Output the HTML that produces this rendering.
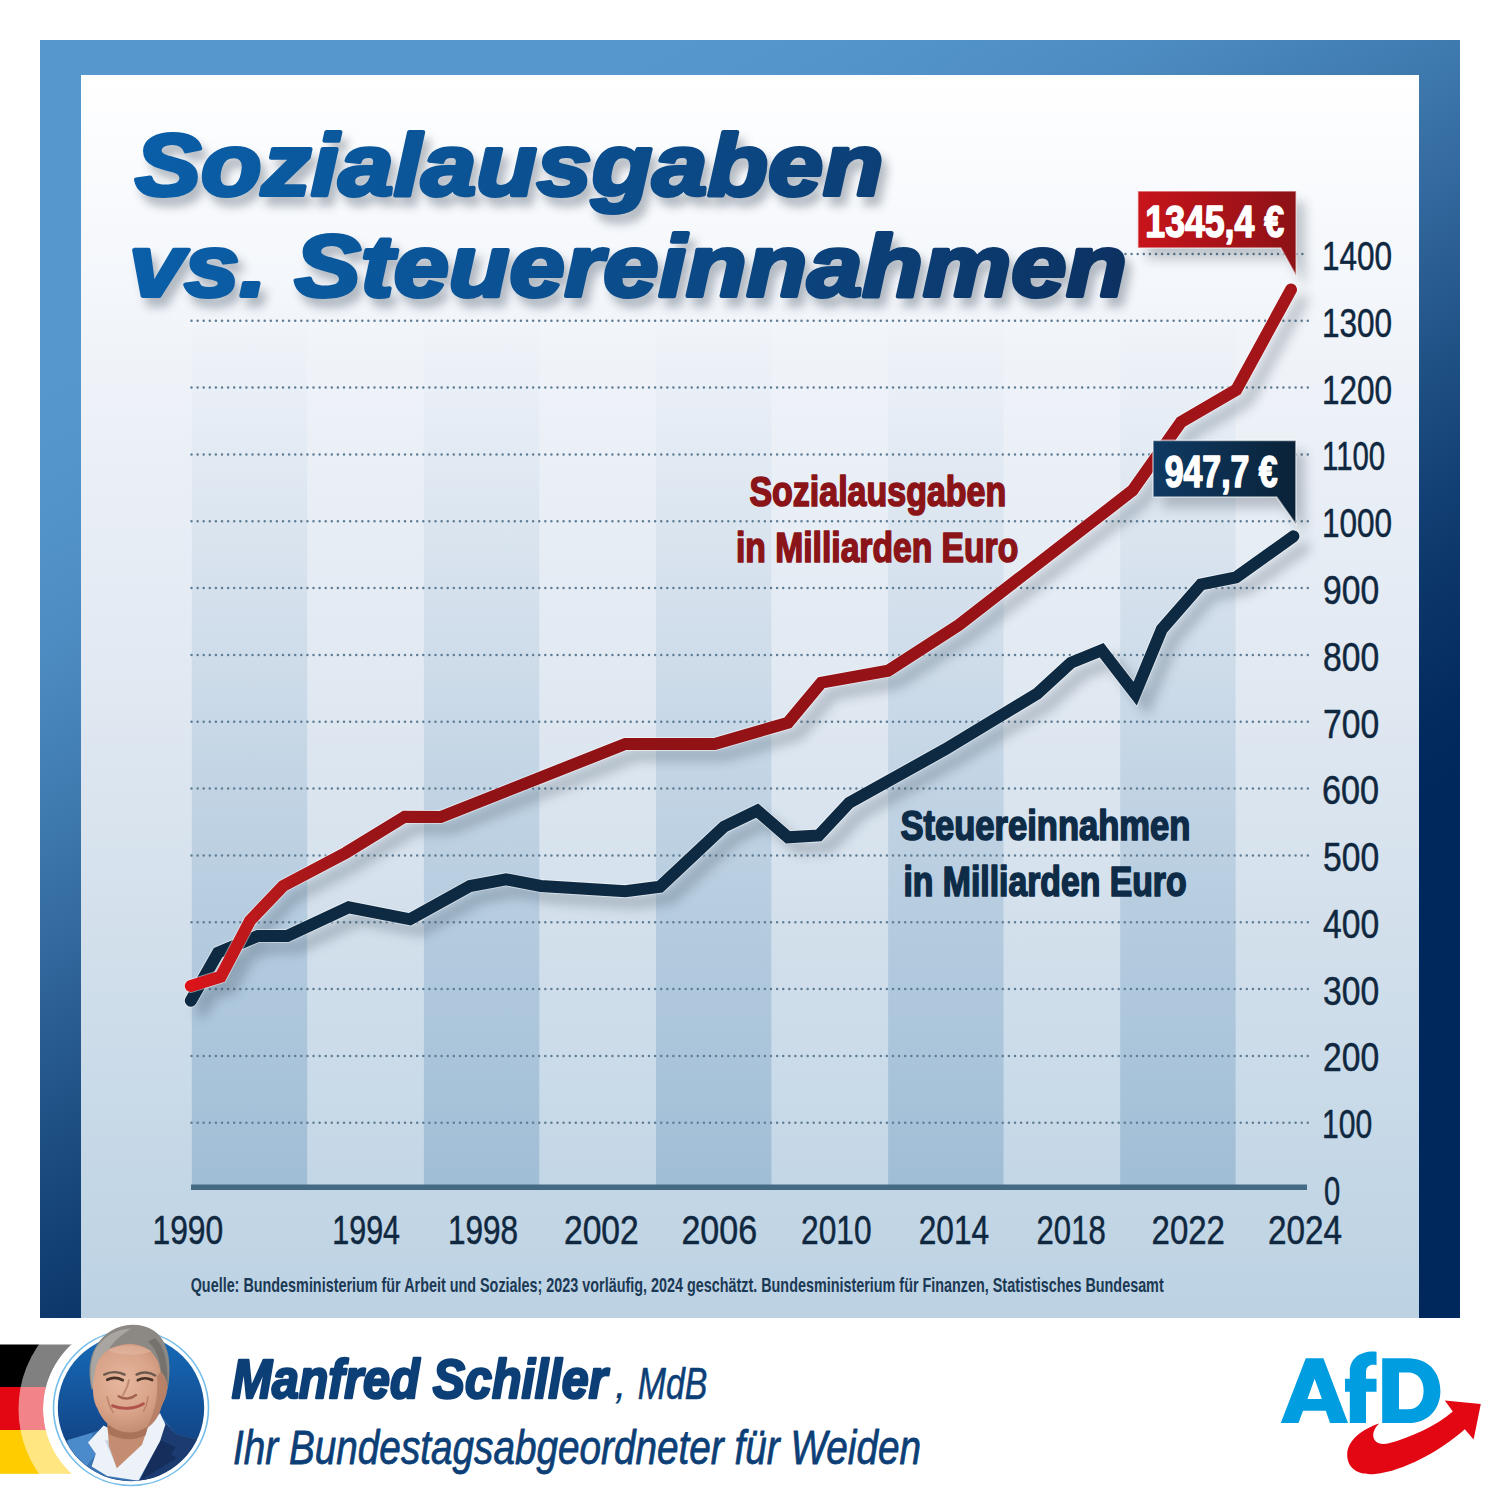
<!DOCTYPE html>
<html><head><meta charset="utf-8"><title>Sozialausgaben vs. Steuereinnahmen</title>
<style>
html,body{margin:0;padding:0;background:#fff;}
body{width:1500px;height:1500px;overflow:hidden;font-family:"Liberation Sans",sans-serif;}
svg{display:block;}
text{font-family:"Liberation Sans",sans-serif;}
</style></head><body>
<svg width="1500" height="1500" viewBox="0 0 1500 1500">
<defs>
<linearGradient id="frameG" gradientUnits="userSpaceOnUse" x1="168.4" y1="307.9" x2="665.3" y2="1216.1">
<stop offset="0.000" stop-color="#5698CE"/><stop offset="0.081" stop-color="#5496CC"/><stop offset="0.229" stop-color="#4D8CC2"/><stop offset="0.375" stop-color="#3F7AAF"/><stop offset="0.522" stop-color="#2E6398"/><stop offset="0.669" stop-color="#1B4B7F"/><stop offset="0.802" stop-color="#0D386C"/><stop offset="0.932" stop-color="#042B5F"/><stop offset="1.000" stop-color="#01285C"/>
</linearGradient>
<linearGradient id="panelG" x1="0" y1="0" x2="0" y2="1">
<stop offset="0" stop-color="#FFFFFF"/><stop offset="0.1" stop-color="#F8FAFD"/><stop offset="0.3" stop-color="#EBF0F7"/><stop offset="0.5" stop-color="#E0E8F1"/><stop offset="1" stop-color="#BCD2E3"/>
</linearGradient>
<linearGradient id="bandG" gradientUnits="userSpaceOnUse" x1="0" y1="310" x2="0" y2="1188">
<stop offset="0" stop-color="#6E9BC0" stop-opacity="0"/><stop offset="1" stop-color="#6E9BC0" stop-opacity="0.42"/>
</linearGradient>
<linearGradient id="titleG" gradientUnits="userSpaceOnUse" x1="134" y1="0" x2="1125" y2="0">
<stop offset="0" stop-color="#0A5FA8"/><stop offset="0.45" stop-color="#0B4F8F"/><stop offset="1" stop-color="#0C3262"/>
</linearGradient>
<linearGradient id="redG" gradientUnits="userSpaceOnUse" x1="190" y1="0" x2="1296" y2="0">
<stop offset="0" stop-color="#DD131A"/><stop offset="0.03" stop-color="#C8171B"/><stop offset="0.07" stop-color="#B5191B"/><stop offset="0.15" stop-color="#9B1418"/><stop offset="0.3" stop-color="#8E1215"/><stop offset="0.8" stop-color="#9A1317"/><stop offset="1" stop-color="#A51519"/>
</linearGradient>
<linearGradient id="redBoxG" x1="0" y1="0" x2="1" y2="0">
<stop offset="0" stop-color="#C8141B"/><stop offset="1" stop-color="#8C1216"/>
</linearGradient>
<linearGradient id="navyBoxG" x1="0" y1="0" x2="1" y2="0">
<stop offset="0" stop-color="#0F3A63"/><stop offset="1" stop-color="#0A2238"/>
</linearGradient>
<linearGradient id="photoG" x1="0" y1="0" x2="0" y2="1">
<stop offset="0" stop-color="#166BB8"/><stop offset="0.55" stop-color="#134E93"/><stop offset="1" stop-color="#123A72"/>
</linearGradient>
<radialGradient id="skinG" gradientUnits="userSpaceOnUse" cx="690" cy="520" r="420"><stop offset="0" stop-color="#E6B79E"/><stop offset="0.6" stop-color="#D9A489"/><stop offset="1" stop-color="#C58E73"/></radialGradient>
<filter id="lineSh" x="-5%" y="-5%" width="115%" height="115%"><feGaussianBlur stdDeviation="6"/></filter>
<filter id="titleSh" x="-5%" y="-20%" width="110%" height="150%"><feGaussianBlur stdDeviation="5"/></filter>
<filter id="boxSh" x="-20%" y="-20%" width="150%" height="160%"><feGaussianBlur stdDeviation="6"/></filter>
<filter id="soft" x="-10%" y="-10%" width="120%" height="120%"><feGaussianBlur stdDeviation="4"/></filter>
<clipPath id="photoClip"><circle cx="131" cy="1408" r="73"/></clipPath>
<clipPath id="flagClip"><path d="M0,1344 H260 V1474 H0 Z M131,1321 a88,88 0 1 0 0.01,0 Z" clip-rule="evenodd"/></clipPath>
</defs>

<rect x="40" y="40" width="1420" height="1278" fill="url(#frameG)"/>
<rect x="81" y="75" width="1338" height="1243" fill="url(#panelG)"/>
<rect x="191.8" y="324" width="115.4" height="864" fill="url(#bandG)"/>
<rect x="423.9" y="324" width="115.4" height="864" fill="url(#bandG)"/>
<rect x="656.0" y="324" width="115.4" height="864" fill="url(#bandG)"/>
<rect x="888.1" y="324" width="115.4" height="864" fill="url(#bandG)"/>
<rect x="1120.2" y="324" width="115.4" height="864" fill="url(#bandG)"/>
<line x1="191.5" y1="1122.8" x2="1308" y2="1122.8" stroke="#5F7E95" stroke-width="2.5" stroke-dasharray="0.01 6.09" stroke-linecap="round"/>
<line x1="191.5" y1="1055.9" x2="1308" y2="1055.9" stroke="#5F7E95" stroke-width="2.5" stroke-dasharray="0.01 6.09" stroke-linecap="round"/>
<line x1="191.5" y1="989.1" x2="1308" y2="989.1" stroke="#5F7E95" stroke-width="2.5" stroke-dasharray="0.01 6.09" stroke-linecap="round"/>
<line x1="191.5" y1="922.3" x2="1308" y2="922.3" stroke="#5F7E95" stroke-width="2.5" stroke-dasharray="0.01 6.09" stroke-linecap="round"/>
<line x1="191.5" y1="855.4" x2="1308" y2="855.4" stroke="#5F7E95" stroke-width="2.5" stroke-dasharray="0.01 6.09" stroke-linecap="round"/>
<line x1="191.5" y1="788.6" x2="1308" y2="788.6" stroke="#5F7E95" stroke-width="2.5" stroke-dasharray="0.01 6.09" stroke-linecap="round"/>
<line x1="191.5" y1="721.8" x2="1308" y2="721.8" stroke="#5F7E95" stroke-width="2.5" stroke-dasharray="0.01 6.09" stroke-linecap="round"/>
<line x1="191.5" y1="655.0" x2="1308" y2="655.0" stroke="#5F7E95" stroke-width="2.5" stroke-dasharray="0.01 6.09" stroke-linecap="round"/>
<line x1="191.5" y1="588.1" x2="1308" y2="588.1" stroke="#5F7E95" stroke-width="2.5" stroke-dasharray="0.01 6.09" stroke-linecap="round"/>
<line x1="191.5" y1="521.3" x2="1308" y2="521.3" stroke="#5F7E95" stroke-width="2.5" stroke-dasharray="0.01 6.09" stroke-linecap="round"/>
<line x1="191.5" y1="454.5" x2="1308" y2="454.5" stroke="#5F7E95" stroke-width="2.5" stroke-dasharray="0.01 6.09" stroke-linecap="round"/>
<line x1="191.5" y1="387.6" x2="1308" y2="387.6" stroke="#5F7E95" stroke-width="2.5" stroke-dasharray="0.01 6.09" stroke-linecap="round"/>
<line x1="191.5" y1="320.8" x2="1308" y2="320.8" stroke="#5F7E95" stroke-width="2.5" stroke-dasharray="0.01 6.09" stroke-linecap="round"/>
<line x1="1125.5" y1="254.0" x2="1308" y2="254.0" stroke="#5F7E95" stroke-width="2.5" stroke-dasharray="0.01 6.09" stroke-linecap="round"/>
<rect x="191" y="1184.5" width="1116" height="5.5" fill="#456A84"/>
<text x="1324.0" y="1204.7" font-size="40" fill="#10283F" stroke="#10283F" stroke-width="0.5" stroke-linejoin="round" textLength="16.2" lengthAdjust="spacingAndGlyphs">0</text>
<text x="1322.0" y="1138.0" font-size="40" fill="#10283F" stroke="#10283F" stroke-width="0.5" stroke-linejoin="round" textLength="50.2" lengthAdjust="spacingAndGlyphs">100</text>
<text x="1323.0" y="1071.2" font-size="40" fill="#10283F" stroke="#10283F" stroke-width="0.5" stroke-linejoin="round" textLength="56.1" lengthAdjust="spacingAndGlyphs">200</text>
<text x="1323.0" y="1004.5" font-size="40" fill="#10283F" stroke="#10283F" stroke-width="0.5" stroke-linejoin="round" textLength="56.1" lengthAdjust="spacingAndGlyphs">300</text>
<text x="1323.0" y="937.7" font-size="40" fill="#10283F" stroke="#10283F" stroke-width="0.5" stroke-linejoin="round" textLength="56.1" lengthAdjust="spacingAndGlyphs">400</text>
<text x="1323.0" y="871.0" font-size="40" fill="#10283F" stroke="#10283F" stroke-width="0.5" stroke-linejoin="round" textLength="56.1" lengthAdjust="spacingAndGlyphs">500</text>
<text x="1322.0" y="804.2" font-size="40" fill="#10283F" stroke="#10283F" stroke-width="0.5" stroke-linejoin="round" textLength="57.1" lengthAdjust="spacingAndGlyphs">600</text>
<text x="1323.0" y="737.5" font-size="40" fill="#10283F" stroke="#10283F" stroke-width="0.5" stroke-linejoin="round" textLength="56.1" lengthAdjust="spacingAndGlyphs">700</text>
<text x="1323.0" y="670.7" font-size="40" fill="#10283F" stroke="#10283F" stroke-width="0.5" stroke-linejoin="round" textLength="56.1" lengthAdjust="spacingAndGlyphs">800</text>
<text x="1323.0" y="604.0" font-size="40" fill="#10283F" stroke="#10283F" stroke-width="0.5" stroke-linejoin="round" textLength="56.1" lengthAdjust="spacingAndGlyphs">900</text>
<text x="1322.0" y="537.2" font-size="40" fill="#10283F" stroke="#10283F" stroke-width="0.5" stroke-linejoin="round" textLength="70.1" lengthAdjust="spacingAndGlyphs">1000</text>
<text x="1322.0" y="470.4" font-size="40" fill="#10283F" stroke="#10283F" stroke-width="0.5" stroke-linejoin="round" textLength="63.2" lengthAdjust="spacingAndGlyphs">1100</text>
<text x="1322.0" y="403.7" font-size="40" fill="#10283F" stroke="#10283F" stroke-width="0.5" stroke-linejoin="round" textLength="70.1" lengthAdjust="spacingAndGlyphs">1200</text>
<text x="1322.0" y="336.9" font-size="40" fill="#10283F" stroke="#10283F" stroke-width="0.5" stroke-linejoin="round" textLength="70.1" lengthAdjust="spacingAndGlyphs">1300</text>
<text x="1322.0" y="270.2" font-size="40" fill="#10283F" stroke="#10283F" stroke-width="0.5" stroke-linejoin="round" textLength="70.1" lengthAdjust="spacingAndGlyphs">1400</text>
<text x="152.5" y="1243.8" font-size="40" fill="#10283F" stroke="#10283F" stroke-width="0.5" stroke-linejoin="round" textLength="70.7" lengthAdjust="spacingAndGlyphs">1990</text>
<text x="332.3" y="1243.8" font-size="40" fill="#10283F" stroke="#10283F" stroke-width="0.5" stroke-linejoin="round" textLength="67.7" lengthAdjust="spacingAndGlyphs">1994</text>
<text x="448.0" y="1243.8" font-size="40" fill="#10283F" stroke="#10283F" stroke-width="0.5" stroke-linejoin="round" textLength="70.1" lengthAdjust="spacingAndGlyphs">1998</text>
<text x="564.0" y="1243.8" font-size="40" fill="#10283F" stroke="#10283F" stroke-width="0.5" stroke-linejoin="round" textLength="74.7" lengthAdjust="spacingAndGlyphs">2002</text>
<text x="681.4" y="1243.8" font-size="40" fill="#10283F" stroke="#10283F" stroke-width="0.5" stroke-linejoin="round" textLength="75.7" lengthAdjust="spacingAndGlyphs">2006</text>
<text x="801.0" y="1243.8" font-size="40" fill="#10283F" stroke="#10283F" stroke-width="0.5" stroke-linejoin="round" textLength="70.5" lengthAdjust="spacingAndGlyphs">2010</text>
<text x="918.8" y="1243.8" font-size="40" fill="#10283F" stroke="#10283F" stroke-width="0.5" stroke-linejoin="round" textLength="70.3" lengthAdjust="spacingAndGlyphs">2014</text>
<text x="1036.6" y="1243.8" font-size="40" fill="#10283F" stroke="#10283F" stroke-width="0.5" stroke-linejoin="round" textLength="69.1" lengthAdjust="spacingAndGlyphs">2018</text>
<text x="1151.6" y="1243.8" font-size="40" fill="#10283F" stroke="#10283F" stroke-width="0.5" stroke-linejoin="round" textLength="73.3" lengthAdjust="spacingAndGlyphs">2022</text>
<text x="1268.0" y="1243.8" font-size="40" fill="#10283F" stroke="#10283F" stroke-width="0.5" stroke-linejoin="round" textLength="74.0" lengthAdjust="spacingAndGlyphs">2024</text>
<text x="190.7" y="1292" font-size="20.8" font-weight="bold" fill="#1B3954" textLength="973.0" lengthAdjust="spacingAndGlyphs">Quelle: Bundesministerium für Arbeit und Soziales; 2023 vorläufig, 2024 geschätzt. Bundesministerium für Finanzen, Statistisches Bundesamt</text>
<g filter="url(#lineSh)" opacity="0.27" transform="translate(11,11)"><polyline points="190.8,986.0 220.7,976.7 250.0,920.7 283.0,886.0 346.0,852.7 404.7,816.7 440.7,817.0 625.3,744.0 714.7,744.0 788.0,722.7 821.3,682.7 888.0,670.7 958.8,625.0 1132.4,490.6 1181.0,422.0 1236.3,389.8 1291.0,289.6" fill="none" stroke="#2A3A4A" stroke-width="12" stroke-linecap="round" stroke-linejoin="miter" stroke-miterlimit="6"/><polyline points="190.8,1000.7 218.0,952.7 258.0,935.9 287.3,935.9 348.7,907.3 410.0,919.3 470.0,886.0 506.0,879.3 540.7,886.0 625.3,891.2 660.0,886.7 724.0,826.7 757.3,810.7 788.0,837.3 818.7,835.5 849.3,802.7 944.8,749.6 1037.2,693.6 1070.8,662.8 1101.6,650.2 1135.2,693.6 1161.8,629.2 1201.0,584.4 1236.0,577.4 1293.4,536.3" fill="none" stroke="#2A3A4A" stroke-width="12" stroke-linecap="round" stroke-linejoin="miter" stroke-miterlimit="6"/></g>
<g filter="url(#titleSh)" opacity="0.33" transform="translate(6,9)"><text x="135.0" y="194.9" font-size="88" font-weight="bold" font-style="italic" fill="#2B3B4D" stroke="#2B3B4D" stroke-width="4" stroke-linejoin="round" textLength="748.5" lengthAdjust="spacingAndGlyphs">Sozialausgaben</text><text x="129.0" y="295.7" font-size="88" font-weight="bold" font-style="italic" fill="#2B3B4D" stroke="#2B3B4D" stroke-width="4" stroke-linejoin="round" textLength="997.9" lengthAdjust="spacingAndGlyphs">vs. Steuereinnahmen</text></g>
<text x="135.0" y="194.9" font-size="88" font-weight="bold" font-style="italic" fill="url(#titleG)" stroke="url(#titleG)" stroke-width="4" stroke-linejoin="round" textLength="748.5" lengthAdjust="spacingAndGlyphs">Sozialausgaben</text>
<text x="129.0" y="295.7" font-size="88" font-weight="bold" font-style="italic" fill="url(#titleG)" stroke="url(#titleG)" stroke-width="4" stroke-linejoin="round" textLength="997.9" lengthAdjust="spacingAndGlyphs">vs. Steuereinnahmen</text>
<polyline points="190.8,1000.7 218.0,952.7 258.0,935.9 287.3,935.9 348.7,907.3 410.0,919.3 470.0,886.0 506.0,879.3 540.7,886.0 625.3,891.2 660.0,886.7 724.0,826.7 757.3,810.7 788.0,837.3 818.7,835.5 849.3,802.7 944.8,749.6 1037.2,693.6 1070.8,662.8 1101.6,650.2 1135.2,693.6 1161.8,629.2 1201.0,584.4 1236.0,577.4 1293.4,536.3" fill="none" stroke="#fff" stroke-opacity="0.5" stroke-width="13.8" stroke-linecap="round" stroke-linejoin="miter" stroke-miterlimit="6"/>
<polyline points="190.8,1000.7 218.0,952.7 258.0,935.9 287.3,935.9 348.7,907.3 410.0,919.3 470.0,886.0 506.0,879.3 540.7,886.0 625.3,891.2 660.0,886.7 724.0,826.7 757.3,810.7 788.0,837.3 818.7,835.5 849.3,802.7 944.8,749.6 1037.2,693.6 1070.8,662.8 1101.6,650.2 1135.2,693.6 1161.8,629.2 1201.0,584.4 1236.0,577.4 1293.4,536.3" fill="none" stroke="#0D2A42" stroke-width="12" stroke-linecap="round" stroke-linejoin="miter" stroke-miterlimit="6"/>
<polyline points="190.8,986.0 220.7,976.7 250.0,920.7 283.0,886.0 346.0,852.7 404.7,816.7 440.7,817.0 625.3,744.0 714.7,744.0 788.0,722.7 821.3,682.7 888.0,670.7 958.8,625.0 1132.4,490.6 1181.0,422.0 1236.3,389.8 1291.0,289.6" fill="none" stroke="#fff" stroke-opacity="0.5" stroke-width="13.8" stroke-linecap="round" stroke-linejoin="miter" stroke-miterlimit="6"/>
<polyline points="190.8,986.0 220.7,976.7 250.0,920.7 283.0,886.0 346.0,852.7 404.7,816.7 440.7,817.0 625.3,744.0 714.7,744.0 788.0,722.7 821.3,682.7 888.0,670.7 958.8,625.0 1132.4,490.6 1181.0,422.0 1236.3,389.8 1291.0,289.6" fill="none" stroke="url(#redG)" stroke-width="12" stroke-linecap="round" stroke-linejoin="miter" stroke-miterlimit="6"/>
<text x="749.4" y="505.7" font-size="42.0" font-weight="bold" fill="#8A1418" stroke="#8A1418" stroke-width="1.7" stroke-linejoin="round" textLength="256.8" lengthAdjust="spacingAndGlyphs">Sozialausgaben</text>
<text x="736.0" y="561.6" font-size="42.0" font-weight="bold" fill="#8A1418" stroke="#8A1418" stroke-width="1.7" stroke-linejoin="round" textLength="282.2" lengthAdjust="spacingAndGlyphs">in Milliarden Euro</text>
<text x="900.4" y="840.2" font-size="42.0" font-weight="bold" fill="#0E2C47" stroke="#0E2C47" stroke-width="1.7" stroke-linejoin="round" textLength="290.0" lengthAdjust="spacingAndGlyphs">Steuereinnahmen</text>
<text x="903.4" y="896.2" font-size="42.0" font-weight="bold" fill="#0E2C47" stroke="#0E2C47" stroke-width="1.7" stroke-linejoin="round" textLength="283.2" lengthAdjust="spacingAndGlyphs">in Milliarden Euro</text>
<g filter="url(#boxSh)" opacity="0.26" transform="translate(9,11)"><path d="M1137.8,191 H1296.2 V276 L1280.7,248 H1137.8 Z" fill="#22303F"/><path d="M1153,440.4 H1295.9 V524.3 L1276.6,497 H1153 Z" fill="#22303F"/></g>
<path d="M1137.8,191 H1296.2 V276 L1280.7,248 H1137.8 Z" fill="url(#redBoxG)" stroke="#fff" stroke-opacity="0.55" stroke-width="1.6"/>
<path d="M1153,440.4 H1295.9 V524.3 L1276.6,497 H1153 Z" fill="url(#navyBoxG)" stroke="#fff" stroke-opacity="0.55" stroke-width="1.6"/>
<text x="1145.3" y="236.5" font-size="43.8" font-weight="bold" fill="#fff" stroke="#fff" stroke-width="1.6" stroke-linejoin="round" textLength="138.8" lengthAdjust="spacingAndGlyphs">1345,4 €</text>
<text x="1164.7" y="486.5" font-size="43.8" font-weight="bold" fill="#fff" stroke="#fff" stroke-width="1.6" stroke-linejoin="round" textLength="112.9" lengthAdjust="spacingAndGlyphs">947,7 €</text>
<g clip-path="url(#flagClip)">
<rect x="0" y="1344.5" width="120" height="42.5" fill="#000"/>
<rect x="0" y="1387" width="120" height="43" fill="#E30613"/>
<rect x="0" y="1430" width="120" height="43.8" fill="#FFCC00"/>
<circle cx="131" cy="1409" r="98.5" fill="none" stroke="#fff" stroke-opacity="0.5" stroke-width="28"/>
</g>
<circle cx="131" cy="1408" r="77.5" fill="#fff" stroke="#74BDEA" stroke-width="1.6"/>
<circle cx="131" cy="1408" r="73.2" fill="url(#photoG)"/>
<g clip-path="url(#photoClip)"><g transform="translate(40,1320) scale(0.12)" filter="url(#soft)">
<path d="M150,1030 L440,935 L560,900 L700,1000 L1000,790 L1130,950 L1330,1000 L1400,1400 L150,1400 Z" fill="#3873B3"/>
<path d="M230,1000 L440,940 L420,1030 L470,1110 L380,1230 L250,1120 Z" fill="#4C8BCB"/>
<path d="M1040,850 L1130,950 L1330,1000 L1400,1400 L800,1400 L1000,1000 Z" fill="#1D3B6F"/>
<path d="M1000,1000 L1130,1060 L1090,1120 L1140,1150 L830,1340 Z" fill="#162F5C"/>
<path d="M400,1020 L530,880 L760,1000 L1000,775 L1045,870 L1000,1010 L820,1340 L560,1300 L430,1220 L465,1115 Z" fill="#EDF1F8"/>
<path d="M540,1000 L640,1230 L700,1180 L610,1010 Z" fill="#C9D3E2"/>
<path d="M560,860 L910,860 L850,1040 L640,1235 L575,1050 Z" fill="#C48D72"/>
<path d="M560,880 L900,880 L880,960 C780,1010 660,1000 575,950 Z" fill="#A87359"/>
</g></g>
<g transform="translate(40,1320) scale(0.12)" filter="url(#soft)">
<path d="M430,580 C395,430 415,300 470,215 C530,110 640,45 765,40 C905,38 1010,105 1050,225 C1088,330 1085,460 1062,585 L1000,570 L960,300 L560,260 L470,570 Z" fill="#8C8985"/>
<path d="M470,230 C540,130 640,75 760,70 C700,110 600,170 540,300 C500,380 480,470 470,560 L435,560 C410,430 425,310 470,230 Z" fill="#A9A6A2"/>
<path d="M960,150 C1030,220 1070,330 1062,560 L1010,560 C1020,420 1000,270 900,180 Z" fill="#75716D"/>
<path d="M458,440 C475,300 565,215 740,198 C900,203 985,290 1005,430 C1040,470 1072,520 1056,600 C1046,660 1020,690 1000,760 C960,860 860,938 740,938 C620,933 520,850 480,740 C440,680 428,560 458,440 Z" fill="url(#skinG)"/>
<path d="M560,250 C640,205 840,200 930,260 C860,300 640,300 560,250 Z" fill="#E9C4AC" opacity="0.4"/>
<path d="M1005,430 C1040,470 1072,520 1056,600 C1046,660 1020,690 1000,760 C975,830 930,880 880,910 C950,800 990,640 975,470 Z" fill="#B07A62" opacity="0.75"/>
<path d="M535,455 C590,425 660,430 705,455 M805,455 C850,428 915,432 960,462" stroke="#6D5A50" stroke-width="20" fill="none" stroke-linecap="round"/>
<path d="M560,498 C600,478 650,480 690,502 M815,502 C850,480 900,482 935,500" stroke="#4A3128" stroke-width="22" fill="none" stroke-linecap="round"/>
<path d="M655,635 C700,665 760,660 800,625" stroke="#A3644E" stroke-width="20" fill="none" stroke-linecap="round"/>
<path d="M740,500 C735,560 700,600 690,630" stroke="#C08A6E" stroke-width="16" fill="none" stroke-linecap="round"/>
<path d="M605,715 C690,748 790,742 862,698" stroke="#B0524B" stroke-width="24" fill="none" stroke-linecap="round"/>
<path d="M560,640 C570,700 590,740 610,770 M900,640 C895,700 880,730 865,760" stroke="#BF8468" stroke-width="14" fill="none" stroke-linecap="round"/>
</g>
<text x="231.7" y="1398.0" font-size="55.5" font-weight="bold" font-style="italic" fill="#0D3F77" stroke="#0D3F77" stroke-width="2.6" stroke-linejoin="round" textLength="375.6" lengthAdjust="spacingAndGlyphs">Manfred Schiller</text>
<text x="614.5" y="1398.3" font-size="44.6" font-style="italic" fill="#0D3F77">,</text>
<text x="637.7" y="1398.8" font-size="44.6" font-style="italic" fill="#0D3F77" stroke="#0D3F77" stroke-width="0.6" stroke-linejoin="round" textLength="69.6" lengthAdjust="spacingAndGlyphs">MdB</text>
<text x="233.0" y="1464" font-size="48" font-style="italic" fill="#0D3F77" stroke="#0D3F77" stroke-width="0.8" stroke-linejoin="round" textLength="688.0" lengthAdjust="spacingAndGlyphs">Ihr Bundestagsabgeordneter für Weiden</text>
<g transform="translate(1270,1340) scale(0.12)" fill="#009EE0">
<path d="M90,692 L298,152 L445,152 L650,692 L500,692 L465,590 L275,590 L238,692 Z M372,322 L312,492 L432,492 Z" fill-rule="evenodd"/>
<path d="M665,692 L665,432 L625,432 L625,322 L665,322 L665,262 C665,150 760,85 888,97 L888,210 C840,200 800,215 800,270 L800,322 L888,322 L888,432 L800,432 L800,692 Z"/>
<path d="M935,152 L1150,152 C1320,152 1420,270 1420,422 C1420,575 1320,692 1150,692 L935,692 Z M1075,270 L1075,578 L1150,578 C1235,578 1280,510 1280,422 C1280,335 1235,270 1150,270 Z" fill-rule="evenodd"/>
</g>
<g transform="translate(1260,1330) scale(0.16)" fill="#E30613">
<path d="M745,585 C640,620 545,690 545,780 C545,870 620,910 720,900 C900,880 1120,760 1280,620 L1335,685 L1380,462 L1155,440 L1205,510 C1100,600 950,670 800,710 C730,725 690,680 715,625 C722,610 732,598 745,585 Z"/>
</g>
</svg></body></html>
